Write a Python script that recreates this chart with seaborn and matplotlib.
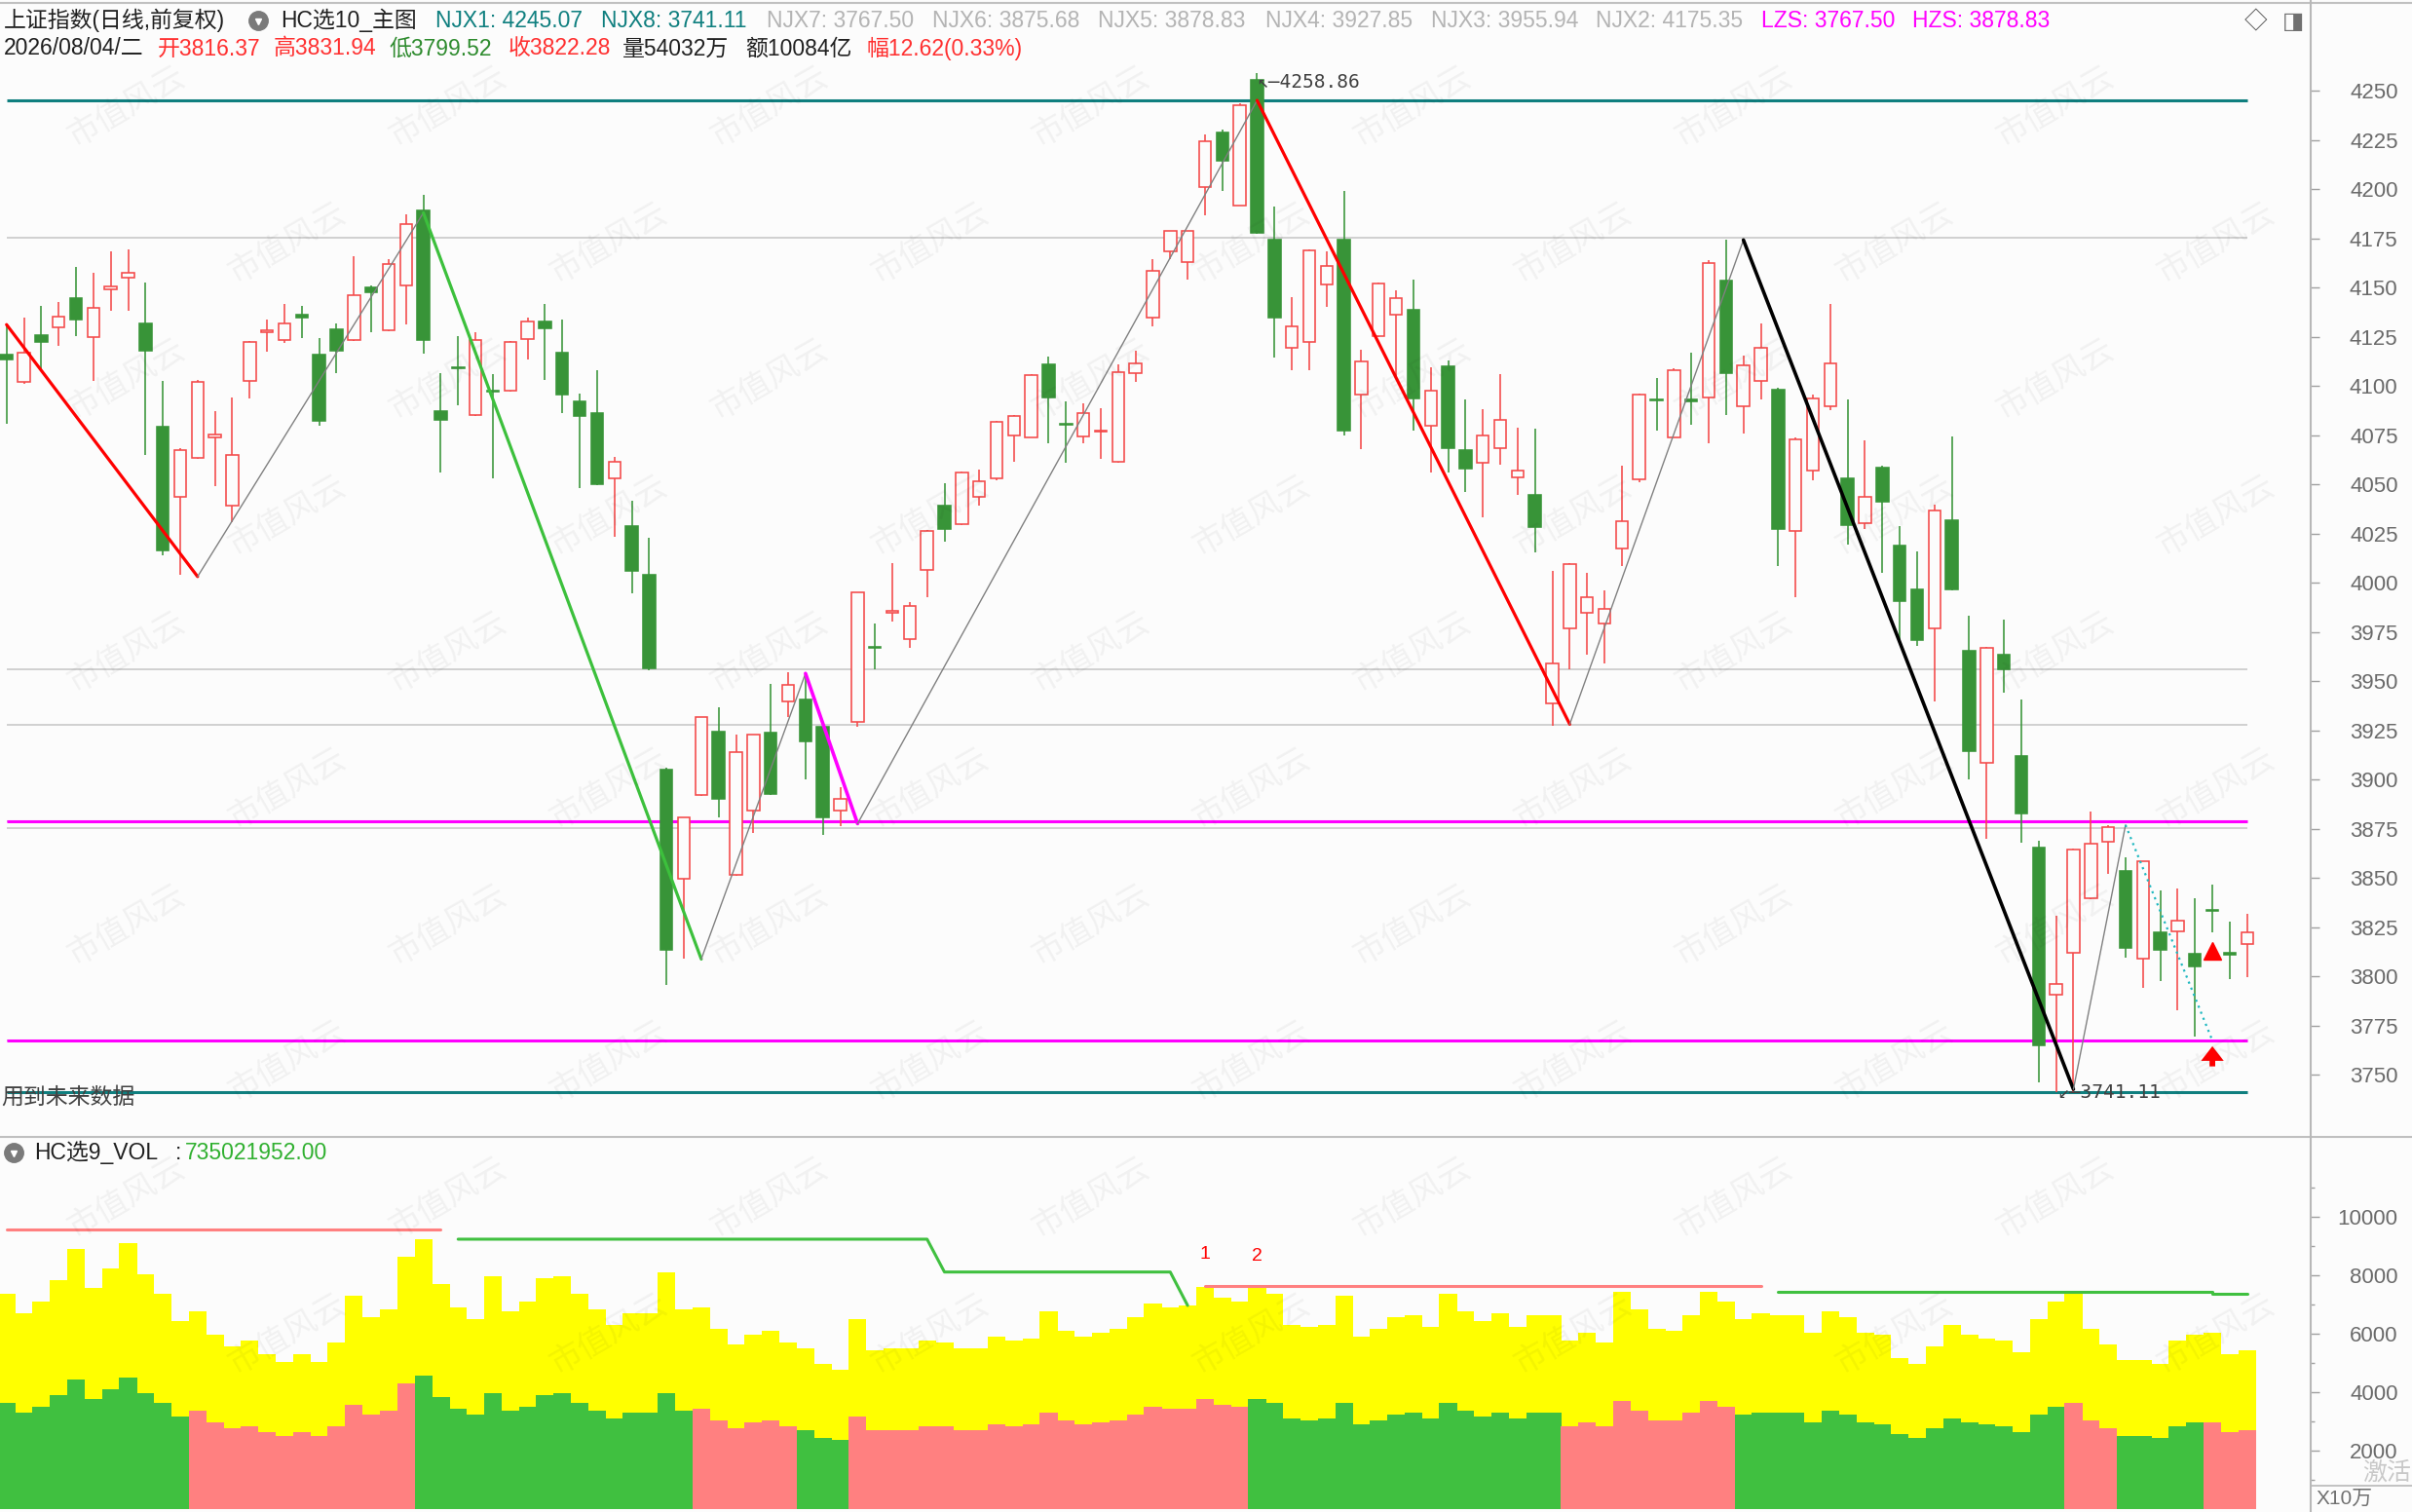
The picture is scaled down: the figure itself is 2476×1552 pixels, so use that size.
import numpy as np
import pandas as pd
import seaborn as sns
import matplotlib.pyplot as plt
from matplotlib.lines import Line2D

# ---- daily bars, oldest first ----
open_ = [4116.1, 4102.3, 4125.7, 4129.8, 4144.6, 4125.0, 4149.1, 4155.3, 4131.9, 4079.3,
         4043.5, 4063.4, 4074.1, 4039.4, 4102.7, 4127.4, 4123.3, 4136.0, 4116.1, 4128.8,
         4123.6, 4150.1, 4128.5, 4151.2, 4189.3, 4087.2, 4109.5, 4085.1, 4097.8, 4097.5,
         4124.0, 4132.9, 4117.1, 4092.3, 4086.1, 4053.1, 4029.0, 4004.3, 3905.2, 3849.5,
         3892.1, 3924.5, 3851.5, 3884.2, 3923.8, 3939.6, 3940.6, 3926.9, 3884.2, 3929.6,
         3967.5, 3985.0, 3971.2, 4006.7, 4039.4, 4029.7, 4043.5, 4053.1, 4075.1, 4074.1,
         4110.9, 4081.0, 4074.4, 4076.9, 4061.4, 4106.4, 4134.6, 4168.4, 4163.2, 4201.0,
         4228.9, 4191.8, 4255.4, 4174.2, 4119.5, 4122.6, 4151.8, 4174.2, 4095.8, 4125.4,
         4136.4, 4138.8, 4080.0, 4109.9, 4067.6, 4061.0, 4068.3, 4053.5, 4044.9, 3938.6,
         3977.1, 3985.0, 3979.2, 4017.7, 4052.8, 4093.4, 4074.1, 4093.0, 4094.1, 4153.6,
         4089.9, 4102.7, 4098.2, 4026.6, 4057.2, 4089.6, 4053.1, 4030.1, 4058.6, 4019.1,
         3996.7, 3977.1, 4031.8, 3965.4, 3908.6, 3963.7, 3912.1, 3865.6, 3791.0, 3812.0,
         3839.8, 3868.4, 3853.6, 3808.9, 3822.6, 3823.0, 3811.6, 3834.0, 3812.0, 3816.37]
high = [4130.5, 4134.6, 4140.5, 4142.6, 4160.4, 4157.7, 4168.4, 4169.4, 4152.5, 4102.7,
        4068.3, 4103.0, 4087.2, 4094.1, 4123.0, 4134.0, 4141.5, 4140.5, 4124.3, 4131.6,
        4165.9, 4151.2, 4164.6, 4187.3, 4197.3, 4106.4, 4125.4, 4127.4, 4106.1, 4123.0,
        4135.0, 4141.5, 4133.6, 4096.1, 4108.2, 4064.1, 4041.8, 4022.8, 3906.2, 3881.1,
        3932.0, 3936.8, 3923.1, 3923.0, 3948.5, 3954.7, 3953.4, 3927.2, 3896.3, 3995.3,
        3979.5, 4010.1, 3990.2, 4026.9, 4050.7, 4056.6, 4057.6, 4082.3, 4085.1, 4106.1,
        4115.1, 4092.3, 4091.0, 4088.9, 4110.9, 4117.8, 4164.6, 4179.0, 4179.0, 4227.9,
        4230.3, 4243.7, 4258.86, 4191.4, 4145.0, 4169.3, 4168.4, 4199.0, 4118.5, 4152.5,
        4148.8, 4153.9, 4109.5, 4113.0, 4093.4, 4088.2, 4106.1, 4078.9, 4078.2, 4006.0,
        4010.1, 4005.0, 3996.4, 4059.7, 4096.1, 4104.0, 4109.2, 4117.1, 4163.9, 4174.2,
        4115.7, 4131.6, 4098.9, 4074.1, 4095.8, 4141.5, 4093.4, 4072.4, 4059.7, 4029.0,
        4015.9, 4039.7, 4074.4, 3983.3, 3967.4, 3981.2, 3940.6, 3869.1, 3830.9, 3864.9,
        3883.9, 3877.0, 3860.5, 3858.7, 3843.6, 3844.7, 3839.8, 3846.7, 3827.8, 3831.94]
low = [4080.6, 4101.0, 4108.2, 4120.2, 4125.4, 4102.7, 4138.1, 4138.1, 4064.8, 4014.2,
       4003.9, 4062.8, 4049.0, 4030.8, 4093.7, 4117.4, 4121.9, 4124.3, 4079.6, 4106.4,
       4123.0, 4127.1, 4128.0, 4131.2, 4116.4, 4055.9, 4090.3, 4084.8, 4053.1, 4097.0,
       4113.7, 4103.3, 4086.5, 4048.0, 4049.6, 4023.5, 3994.6, 3955.8, 3795.8, 3808.9,
       3891.8, 3880.8, 3851.2, 3873.2, 3892.5, 3932.0, 3900.4, 3872.2, 3876.3, 3926.9,
       3956.1, 3980.2, 3967.1, 3992.6, 4021.1, 4029.4, 4039.4, 4052.1, 4061.7, 4073.8,
       4070.7, 4061.0, 4070.7, 4062.8, 4061.1, 4102.0, 4130.2, 4164.6, 4154.3, 4186.6,
       4199.3, 4191.5, 4177.3, 4114.4, 4108.2, 4108.2, 4140.2, 4074.8, 4067.9, 4125.1,
       4104.7, 4077.2, 4055.9, 4055.9, 4046.2, 4033.2, 4060.0, 4044.5, 4015.3, 3927.6,
       3956.1, 3963.7, 3959.2, 4008.4, 4051.1, 4077.5, 4073.8, 4080.3, 4071.0, 4085.5,
       4075.8, 4093.4, 4008.4, 3992.6, 4052.1, 4087.9, 4019.4, 4027.3, 4005.3, 3970.6,
       3967.8, 3939.6, 3996.4, 3900.4, 3870.1, 3944.1, 3868.0, 3746.3, 3741.5, 3741.11,
       3839.5, 3852.2, 3809.6, 3794.1, 3797.9, 3783.1, 3769.3, 3822.6, 3798.6, 3799.52]
close = [4113.7, 4116.8, 4122.6, 4135.3, 4133.6, 4139.5, 4150.5, 4157.4, 4118.1, 4016.3,
         4067.6, 4102.0, 4075.5, 4065.2, 4122.6, 4128.1, 4131.6, 4134.6, 4082.4, 4117.8,
         4146.3, 4147.4, 4162.2, 4182.1, 4123.3, 4083.0, 4108.8, 4123.6, 4097.2, 4122.6,
         4132.9, 4129.5, 4095.8, 4084.8, 4050.0, 4061.7, 4006.3, 3956.8, 3813.4, 3880.8,
         3931.7, 3890.1, 3913.8, 3922.7, 3892.8, 3948.2, 3919.3, 3880.8, 3890.1, 3995.0,
         3966.8, 3985.7, 3988.4, 4026.6, 4027.3, 4055.9, 4051.4, 4082.0, 4084.8, 4105.8,
         4094.1, 4080.3, 4086.1, 4077.5, 4107.1, 4111.6, 4158.7, 4178.7, 4178.7, 4224.4,
         4214.5, 4242.7, 4177.6, 4135.0, 4130.2, 4169.0, 4161.1, 4077.2, 4112.6, 4152.2,
         4144.6, 4093.7, 4097.8, 4068.6, 4057.9, 4075.1, 4083.0, 4057.2, 4028.4, 3959.2,
         4009.8, 3992.9, 3986.7, 4031.4, 4095.8, 4092.7, 4107.8, 4092.3, 4162.5, 4106.4,
         4110.6, 4119.5, 4027.3, 4073.1, 4093.7, 4111.6, 4029.4, 4043.5, 4041.1, 3990.5,
         3970.9, 4036.9, 3996.7, 3914.5, 3967.1, 3956.1, 3882.8, 3765.2, 3796.1, 3864.6,
         3867.4, 3875.9, 3814.4, 3858.4, 3813.7, 3828.5, 3805.4, 3833.3, 3811.3, 3822.28]

# volume panel (x10万): total height and lower coloured part
vol_total = [7360, 6690, 7090, 7820, 8890, 7560, 8220, 9090, 8020, 7360,
             6420, 6760, 5960, 5560, 5760, 5290, 5020, 5290, 5020, 5690,
             7290, 6560, 6820, 8620, 9220, 7690, 6890, 6490, 7960, 6760,
             7090, 7890, 7960, 7360, 6820, 6290, 6690, 6690, 8090, 6820,
             6890, 6160, 5620, 5960, 6090, 5690, 5490, 4960, 4760, 6490,
             5420, 5490, 5490, 5760, 5690, 5490, 5490, 5890, 5760, 5820,
             6760, 6090, 5890, 6020, 6160, 6560, 7020, 6890, 6960, 7600,
             7220, 7090, 7560, 7360, 6290, 6220, 6290, 7290, 5890, 6160,
             6560, 6620, 6220, 7360, 6760, 6420, 6690, 6220, 6620, 6620,
             5760, 6020, 5690, 7420, 6820, 6160, 6090, 6620, 7420, 7090,
             6490, 6690, 6620, 6620, 6020, 6760, 6560, 6020, 5960, 5160,
             4960, 5560, 6290, 5960, 5820, 5760, 5360, 6490, 7090, 7360,
             6160, 5620, 5090, 5090, 4960, 5760, 5960, 6020, 5290, 5420]
vol_part = [3620, 3290, 3490, 3890, 4420, 3760, 4090, 4490, 3960, 3620,
            3160, 3360, 2960, 2760, 2820, 2620, 2490, 2620, 2490, 2820,
            3560, 3220, 3360, 4290, 4560, 3820, 3420, 3220, 3960, 3360,
            3490, 3890, 3960, 3620, 3360, 3090, 3290, 3290, 3960, 3360,
            3420, 3020, 2760, 2960, 3020, 2820, 2690, 2420, 2360, 3160,
            2690, 2690, 2690, 2820, 2820, 2690, 2690, 2890, 2820, 2890,
            3290, 3020, 2890, 2960, 3020, 3220, 3490, 3420, 3420, 3760,
            3560, 3490, 3760, 3620, 3090, 3020, 3090, 3620, 2890, 3020,
            3220, 3290, 3090, 3620, 3360, 3160, 3290, 3090, 3290, 3290,
            2820, 2960, 2820, 3690, 3360, 3020, 3020, 3290, 3690, 3490,
            3220, 3290, 3290, 3290, 2960, 3360, 3220, 2960, 2890, 2560,
            2420, 2760, 3090, 2960, 2890, 2820, 2620, 3220, 3490, 3620,
            3020, 2760, 2490, 2490, 2420, 2820, 2960, 2960, 2620, 2690]

# zigzag turning points (bar index, price) and the style of each leg
zz_idx = [0, 11, 24, 40, 46, 49, 72, 90, 100, 119, 122, 127]
zz_px = [4131.2, 4003.2, 4188.0, 3808.9, 3954.0, 3877.7, 4245.1, 3928.2, 4174.2, 3742.8, 3877.0, 3767.5]
zz_leg = ['red', 'thin', 'green', 'thin', 'magenta', 'thin', 'red', 'thin', 'black', 'thin', 'cyan']

# horizontal levels
njx_names = ['NJX1', 'NJX8', 'NJX7', 'NJX6', 'NJX5', 'NJX4', 'NJX3', 'NJX2']
njx_vals = [4245.07, 3741.11, 3767.50, 3875.68, 3878.83, 3927.85, 3955.94, 4175.35]
lzs, hzs = 3767.50, 3878.83

# signal marks near the end
sig_idx, sig_px = 127, 3813.0

# step lines in the volume panel: (x points, y points, colour key)
vol_lines = [([0, 25], [9557, 9557], 'pink'),
             ([26, 53, 54, 67, 68], [9224, 9224, 8101, 8101, 6957], 'green'),
             ([69, 101], [7624, 7624], 'pink'),
             ([102, 127, 127, 129], [7435, 7435, 7357, 7357], 'green')]
vol_marks = [(69, 8700, '1'), (72, 8650, '2')]
vol_value = '735021952.00'
day_info = ['2026/08/04/二', '54032万', '10084亿']
chg_info = '12.62(0.33%)'

BG = '#fcfcfc'
RED, GRN = '#f44848', '#389438'
TEAL, MAG = '#0f7f7f', '#ff00ff'
PINK, VGRN = '#ff8080', '#40c040'
leg_style = {'red': ('#ff0000', 2.3, '-'), 'thin': ('#808080', 1.0, '-'),
             'green': ('#3cc03c', 2.3, '-'), 'magenta': ('#ff00ff', 2.6, '-'),
             'black': ('#000000', 2.6, '-'), 'cyan': ('#20b8c0', 1.6, (0, (1, 2)))}

sns.set_theme(style='white')
plt.rcParams['font.family'] = ['Liberation Sans', 'Noto Sans CJK SC', 'DejaVu Sans']

W, H = 2476, 1552
PANEL_Y = 1166.7
AXIS_X = 2372


def fx(px):
    return px / W


def fy(py):
    return 1 - py / H


n = len(close)
xs = np.arange(n)
df = pd.DataFrame({'x': xs, 'open': open_, 'high': high, 'low': low, 'close': close})
df['up'] = df['close'] >= df['open']

fig = plt.figure(figsize=(W / 100, H / 100), dpi=100, facecolor=BG)
ax = fig.add_axes([0, fy(PANEL_Y), fx(AXIS_X), PANEL_Y / H], facecolor=BG)
ax_v = fig.add_axes([0, 0, fx(AXIS_X), fy(PANEL_Y)], facecolor=BG)
xlim = (-0.376, 132.66)

# ---- main panel ----
for name, val in zip(njx_names, njx_vals):
    if name in ('NJX1', 'NJX8'):
        ax.hlines(val, 0, n - 1, color=TEAL, lw=2.2, zorder=1)
    else:
        ax.hlines(val, 0, n - 1, color='#c4c4c4', lw=1.1, zorder=1)
for lv in (lzs, hzs):
    ax.hlines(lv, 0, n - 1, color=MAG, lw=2.2, zorder=1.5)

cols = np.where(df['up'], RED, GRN)
ax.vlines(df['x'], df['low'], df['high'], colors=cols, lw=1.15, zorder=2)
body_lo = df[['open', 'close']].min(axis=1)
body_h = (df['close'] - df['open']).abs()
ax.bar(df['x'], body_h, bottom=body_lo, width=0.7,
       color=np.where(df['up'], BG, GRN), edgecolor=cols, linewidth=1.15, zorder=3)

for k, leg in enumerate(zz_leg):
    c, lw, ls = leg_style[leg]
    sns.lineplot(x=[zz_idx[k], zz_idx[k + 1]], y=[zz_px[k], zz_px[k + 1]], ax=ax,
                 color=c, lw=lw, linestyle=ls, zorder=4)

hi_i = int(np.argmax(high))
lo_i = int(np.argmin(low))
ax.text(hi_i, high[hi_i], f'↖—{high[hi_i]:.2f}', family='DejaVu Sans Mono', fontsize=14,
        color='#404040', ha='left', va='top', zorder=5)
ax.annotate(f'↙—{low[lo_i]:.2f}', (lo_i, low[lo_i]), xytext=(-12, 0), textcoords='offset points',
            family='DejaVu Sans Mono', fontsize=14, color='#404040', ha='left', va='center', zorder=5)

ax.plot([sig_idx], [sig_px], marker='^', markersize=13, color='#ff0000', zorder=5)
ax.annotate('', xy=(sig_idx, lzs - 1.5), xytext=(sig_idx, lzs - 14.5),
            arrowprops=dict(arrowstyle='simple,head_length=0.9,head_width=1.4,tail_width=0.35',
                            color='#ff0000', lw=0), zorder=5)

ax.set_xlim(*xlim)
ax.set_ylim(3718.7, 4296.1)
ax.set_xticks([])
ticks = np.arange(3750, 4251, 25)
ax.yaxis.tick_right()
ax.set_yticks(ticks)
ax.set_yticklabels([str(t) for t in ticks], ha='right')
ax.tick_params(axis='y', length=6.5, width=1, color='#a0a0a0', pad=58,
               labelsize=16, labelcolor='#6a6a6a', direction='out')
for s in ax.spines.values():
    s.set_visible(False)

# ---- volume panel ----
leg_up = [zz_px[k + 1] > zz_px[k] for k in range(len(zz_idx) - 1)]
leg_up.append(not leg_up[-1])
bar_leg = np.searchsorted(zz_idx, xs, side='right') - 1
part_cols = [PINK if leg_up[k] else VGRN for k in bar_leg]
ax_v.bar(xs, vol_total, width=1.02, color='#ffff00', linewidth=0, antialiased=False, zorder=1)
ax_v.bar(xs, vol_part, width=1.02, color=part_cols, linewidth=0, antialiased=False, zorder=2)
for lx, ly, ck in vol_lines:
    sns.lineplot(x=lx, y=ly, ax=ax_v, color=PINK if ck == 'pink' else VGRN,
                 lw=2.2, sort=False, estimator=None, zorder=3)
for mx, my, mt in vol_marks:
    ax_v.text(mx, my, mt, color='#ff0000', fontsize=14, ha='center', va='center', zorder=4)

ax_v.set_xlim(*xlim)
ax_v.set_ylim(-110, 12733)
ax_v.set_xticks([])
ax_v.yaxis.tick_right()
vt = np.arange(2000, 10001, 2000)
ax_v.set_yticks(vt)
ax_v.set_yticklabels([str(t) for t in vt], ha='right')
ax_v.set_yticks(np.arange(1000, 11001, 2000), minor=True)
ax_v.tick_params(axis='y', which='major', length=6.5, width=1, color='#a0a0a0', pad=58,
                 labelsize=16, labelcolor='#6a6a6a', direction='out')
ax_v.tick_params(axis='y', which='minor', length=3, width=1, color='#a0a0a0', direction='out')
for s in ax_v.spines.values():
    s.set_visible(False)

# ---- watermark (kept clear of the edges) ----
for r in range(0, 11):
    for c in range(0, 8):
        wx = c * 330 + (r % 2) * 165 + 130
        wy = r * 140 + 110
        if wx > 2300 or wy > 1470:
            continue
        fig.text(fx(wx), fy(wy), '市值风云', rotation=30, fontsize=24, color='k', alpha=0.05,
                 ha='center', va='center', family=['Noto Sans CJK SC'])

# ---- frame lines ----
for ln in (Line2D([0, 1], [fy(2.7)] * 2, color='#c0c0c0', lw=1.5),
           Line2D([0, 1], [fy(PANEL_Y)] * 2, color='#c0c0c0', lw=1.5),
           Line2D([fx(AXIS_X)] * 2, [0, 1], color='#b8b8b8', lw=1.5),
           Line2D([fx(AXIS_X), 1], [fy(1525)] * 2, color='#b8b8b8', lw=1.2)):
    fig.add_artist(ln)

# ---- header texts ----
FS = 16.5
Y1, Y2 = 21, 50
fig.text(fx(4), fy(Y1), '上证指数(日线,前复权)', fontsize=FS, color='#202020', va='center')
fig.add_artist(Line2D([fx(265)], [fy(Y1)], marker='o', markersize=14, color='#7a7a7a', lw=0))
fig.add_artist(Line2D([fx(265)], [fy(Y1 + 1)], marker='v', markersize=5, color='white', lw=0))
fig.text(fx(288.6), fy(Y1), 'HC选10_主图', fontsize=FS, color='#202020', va='center')
hdr_x = [446.8, 616.8, 786.9, 956.9, 1127, 1299, 1468.6, 1638]
for hx, name, val in zip(hdr_x, njx_names, njx_vals):
    colr = TEAL if name in ('NJX1', 'NJX8') else '#b4b4b4'
    fig.text(fx(hx), fy(Y1), f'{name}: {val:.2f}', fontsize=FS, color=colr, va='center')
fig.text(fx(1807.6), fy(Y1), f'LZS: {lzs:.2f}', fontsize=FS, color=MAG, va='center')
fig.text(fx(1962.8), fy(Y1), f'HZS: {hzs:.2f}', fontsize=FS, color=MAG, va='center')
fig.text(fx(2304), fy(23), '◇', fontsize=17, color='#505050', va='center')
fig.text(fx(2343), fy(23), '◨', fontsize=17, color='#707070', va='center')

row2 = [(4, day_info[0], '#202020'),
        (162, f'开{open_[-1]:.2f}', '#ff3030'),
        (280.7, f'高{high[-1]:.2f}', '#ff3030'),
        (399, f'低{low[-1]:.2f}', '#2e8b2e'),
        (522, f'收{close[-1]:.2f}', '#ff3030'),
        (639, f'量{day_info[1]}', '#202020'),
        (765.5, f'额{day_info[2]}', '#202020'),
        (889.7, f'幅{chg_info}', '#ff3030')]
for rx, rt, rc in row2:
    fig.text(fx(rx), fy(Y2), rt, fontsize=FS, color=rc, va='center')

fig.text(fx(1), fy(1126), '用到未来数据', fontsize=FS, color='#404040', va='center')

fig.add_artist(Line2D([fx(14)], [fy(1183)], marker='o', markersize=14, color='#7a7a7a', lw=0))
fig.add_artist(Line2D([fx(14)], [fy(1184)], marker='v', markersize=5, color='white', lw=0))
fig.text(fx(35.6), fy(1183), 'HC选9_VOL', fontsize=FS, color='#202020', va='center')
fig.text(fx(180), fy(1183), ':', fontsize=FS, color='#202020', va='center')
fig.text(fx(190), fy(1183), vol_value, fontsize=FS, color='#30b030', va='center')

fig.text(fx(2378), fy(1538), 'X10万', fontsize=15, color='#707070', va='center')
fig.text(fx(2425), fy(1512), '激活', fontsize=18, color='#c8c8c8', va='center')

fig.savefig('out.png', dpi=100, facecolor=BG)
